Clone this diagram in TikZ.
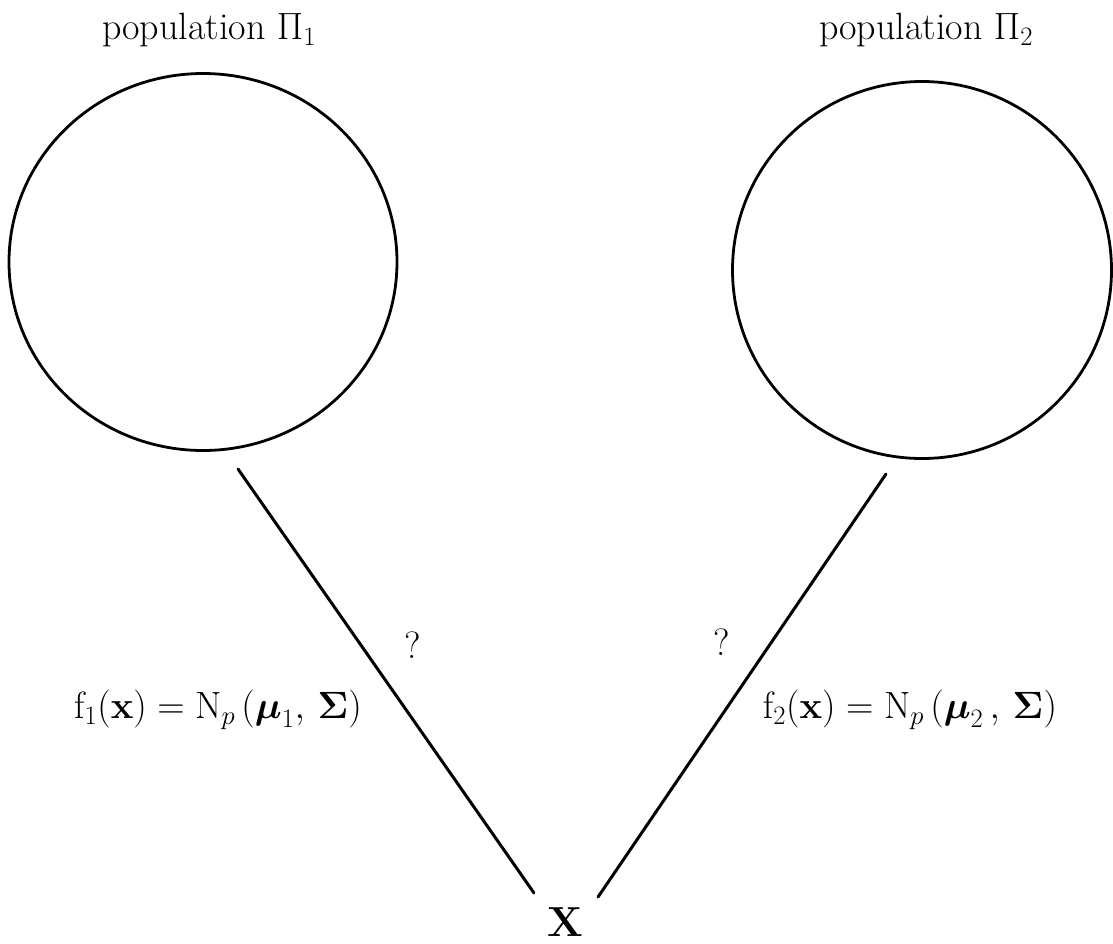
\RequirePackage{fix-cm}
\documentclass[tikz,border=0pt]{standalone}
\usepackage{amsmath,amssymb}
\usepackage{tikz}
\usetikzlibrary{shapes.geometric}

\begin{document}
\begin{tikzpicture}[x=1pt, y=-1pt, line width=3pt,
every node/.style={font=\fontsize{38}{44}\selectfont, inner sep=0pt},
popcircle/.style={draw, ellipse, line width=2.8pt}]
\useasboundingbox (0,0) rectangle (1113,943);
\node[popcircle, minimum width=388pt, minimum height=377pt] (pi1) at (203,262) {};
\node[popcircle, minimum width=379pt, minimum height=377pt] (pi2) at (922,270) {};
\node (lab1) at (209,30) {population $\Pi_1$};
\node (lab2) at (926,30) {population $\Pi_2$};
\node[font=\fontsize{42}{48}\selectfont] (xx) at (565,922) {$\mathbf{X}$};
\coordinate (top1) at (238,469);
\coordinate (bot1) at (534,893);
\coordinate (top2) at (886,474);
\coordinate (bot2) at (598,897);
\draw[line cap=round] (top1) -- (bot1);
\draw[line cap=round] (top2) -- (bot2);
\node (q1) at (413,645) {?};
\node (q2) at (722,642) {?};
\node (dens1) at (218,710) {$\mathrm{f}_1(\mathbf{x}) = \mathrm{N}_p\,(\boldsymbol{\mu}_1,\, \boldsymbol{\Sigma})$};
\node (dens2) at (910,710) {$\mathrm{f}_2(\mathbf{x}) = \mathrm{N}_p\,(\boldsymbol{\mu}_2\,,\, \boldsymbol{\Sigma})$};
\end{tikzpicture}
\end{document}
